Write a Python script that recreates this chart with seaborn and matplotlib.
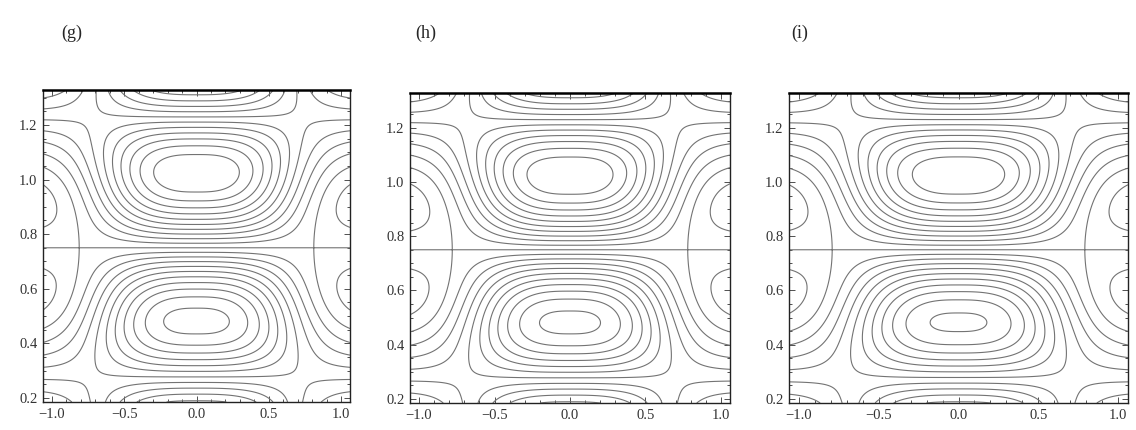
import numpy as np
import matplotlib
matplotlib.use("Agg")
import matplotlib.pyplot as plt
import seaborn as sns

# panel texts and axis ticks
panel_labels = ["(g)", "(h)", "(i)"]
x_ticks = [-1.0, -0.5, 0.0, 0.5, 1.0]
y_ticks = [0.2, 0.4, 0.6, 0.8, 1.0, 1.2]
x_range = [-1.06, 1.06]
y_range = [0.185, 1.328]

# flow, one entry per panel
y_mid = 0.75                       # straight streamline between the two cells
wavenumber = [6.6, 6.6, 6.6]       # vertical cell wavenumber
second = [0.035, 0.035, 0.035]     # x-independent second harmonic
shear = [1.0, 1.0, 1.0]
saddle_x = [0.81, 0.78, 0.79]      # saddle points on y_mid
asym = [0.085, 0.10, 0.12]         # upper cell a bit stronger than the lower one
edge_floor = 0.4
flatness = 2.9
rings_inside = 10                  # contour levels between y_mid and the upper centre

# pixel boxes of the three frames (left, right, top, bottom)
boxes = [(43, 350, 90, 402), (410, 730, 93, 403), (789, 1128, 93, 403)]
label_x = [72, 426, 800]
W, H = 1136, 430

sns.set_theme(style="ticks")
plt.rcParams["font.family"] = ["Liberation Serif", "DejaVu Serif"]
plt.rcParams["axes.unicode_minus"] = True


def stream(x, s, i):
    m = wavenumber[i]
    g = second[i]
    b = shear[i]
    x_at_saddle = (2 * g * m - b) / m
    w = saddle_x[i] / np.log((1 + edge_floor) / (edge_floor + x_at_saddle)) ** (1 / flatness)
    prof = (1 + edge_floor) * np.exp(-(np.abs(x) / w) ** flatness) - edge_floor
    core = prof * np.sin(m * s) - g * np.sin(2 * m * s) + b * s
    return (1 + asym[i] * s) * core


fig = plt.figure(figsize=(W / 100, H / 100), dpi=100)

xg = np.linspace(x_range[0], x_range[1], 500)
yg = np.linspace(y_range[0], y_range[1], 600)
X, Y = np.meshgrid(xg, yg)

for i, (l, r, t, bt) in enumerate(boxes):
    ax = fig.add_axes([l / W, (H - bt) / H, (r - l) / W, (bt - t) / H])
    Z = stream(X, Y - y_mid, i)
    upper_max = stream(np.zeros_like(yg), yg - y_mid, i).max()
    step = upper_max / (rings_inside + 0.9)
    levels = step * np.arange(-30, 31)
    ax.contour(X, Y, Z, levels=levels, colors="#737373", linewidths=0.8,
               linestyles="solid")

    ax.set_xlim(x_range)
    ax.set_ylim(y_range)
    ax.set_xticks(x_ticks)
    ax.set_xticklabels([f"{v:.1f}".replace("-", "\u2212") for v in x_ticks])
    ax.set_yticks(y_ticks)
    ax.set_yticklabels([f"{v:.1f}" for v in y_ticks])
    ax.set_xticks(np.arange(-1.0, 1.01, 0.1), minor=True)
    ax.set_yticks(np.arange(0.2, 1.31, 0.05), minor=True)
    ax.tick_params(which="both", direction="in", top=True, right=True,
                   colors="#333333", labelsize=10.5, width=0.6)
    ax.tick_params(which="major", length=4, pad=4)
    ax.tick_params(which="minor", length=2)
    for side in ["left", "right", "bottom"]:
        ax.spines[side].set_linewidth(1.0)
        ax.spines[side].set_color("#222222")
    ax.spines["top"].set_linewidth(1.8)
    ax.spines["top"].set_color("black")

    fig.text(label_x[i] / W, 1 - 33 / H, panel_labels[i], fontsize=13,
             ha="center", va="center")

fig.savefig("out.png", dpi=100)
